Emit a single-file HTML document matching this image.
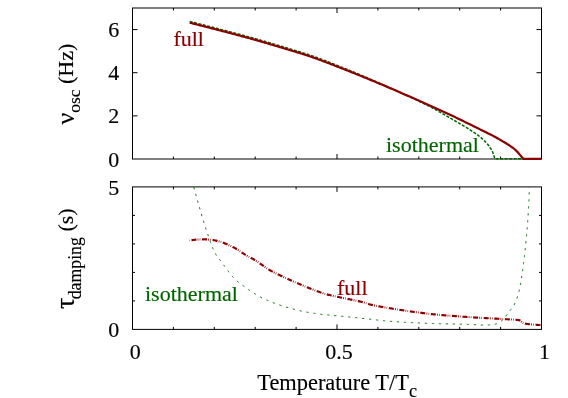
<!DOCTYPE html>
<html><head><meta charset="utf-8"><style>
html,body{margin:0;padding:0;background:#fff;}
svg{display:block;will-change:transform;}
text{font-family:"Liberation Serif",serif;font-size:22px;fill:#000;stroke:#000;stroke-width:0.15px;}
</style></head><body>
<svg width="568" height="398" viewBox="0 0 568 398">
<defs><filter id="vb" filterUnits="userSpaceOnUse" x="0" y="0" width="568" height="398" color-interpolation-filters="sRGB"><feGaussianBlur stdDeviation="0 0.5"/></filter></defs>
<rect width="568" height="398" fill="#fff"/>
<g filter="url(#vb)">
<rect width="568" height="398" fill="#fff"/>
<g fill="none" stroke="#000" stroke-width="1">
<rect x="132.5" y="8.0" width="409.0" height="151.0"/>
<rect x="132.5" y="186.9" width="409.0" height="142.49999999999997"/>
<path d="M173.40,159.0 v-2.5 M173.40,8.0 v2.5"/>
<path d="M173.40,329.4 v-2.5 M173.40,186.9 v2.5"/>
<path d="M214.30,159.0 v-2.5 M214.30,8.0 v2.5"/>
<path d="M214.30,329.4 v-2.5 M214.30,186.9 v2.5"/>
<path d="M255.20,159.0 v-2.5 M255.20,8.0 v2.5"/>
<path d="M255.20,329.4 v-2.5 M255.20,186.9 v2.5"/>
<path d="M296.10,159.0 v-2.5 M296.10,8.0 v2.5"/>
<path d="M296.10,329.4 v-2.5 M296.10,186.9 v2.5"/>
<path d="M337.00,159.0 v-5 M337.00,8.0 v5"/>
<path d="M337.00,329.4 v-5 M337.00,186.9 v5"/>
<path d="M377.90,159.0 v-2.5 M377.90,8.0 v2.5"/>
<path d="M377.90,329.4 v-2.5 M377.90,186.9 v2.5"/>
<path d="M418.80,159.0 v-2.5 M418.80,8.0 v2.5"/>
<path d="M418.80,329.4 v-2.5 M418.80,186.9 v2.5"/>
<path d="M459.70,159.0 v-2.5 M459.70,8.0 v2.5"/>
<path d="M459.70,329.4 v-2.5 M459.70,186.9 v2.5"/>
<path d="M500.60,159.0 v-2.5 M500.60,8.0 v2.5"/>
<path d="M500.60,329.4 v-2.5 M500.60,186.9 v2.5"/>
<path d="M132.5,115.86 h5 M541.5,115.86 h-5"/>
<path d="M132.5,72.71 h5 M541.5,72.71 h-5"/>
<path d="M132.5,29.57 h5 M541.5,29.57 h-5"/>
<path d="M132.5,300.90 h2.5 M541.5,300.90 h-2.5"/>
<path d="M132.5,272.40 h2.5 M541.5,272.40 h-2.5"/>
<path d="M132.5,243.90 h2.5 M541.5,243.90 h-2.5"/>
<path d="M132.5,215.40 h2.5 M541.5,215.40 h-2.5"/>
</g>
<g fill="none" stroke-linejoin="round">
<path d="M189.70,21.45 L190.81,21.73 L191.91,22.00 L193.02,22.28 L194.13,22.56 L195.23,22.84 L196.34,23.12 L197.44,23.39 L198.55,23.67 L199.65,23.95 L200.76,24.23 L201.86,24.52 L202.97,24.80 L204.08,25.08 L205.18,25.36 L206.29,25.64 L207.39,25.93 L208.49,26.21 L209.60,26.50 L210.70,26.78 L211.81,27.06 L212.91,27.35 L214.02,27.64 L215.12,27.92 L216.22,28.21 L217.33,28.49 L218.43,28.78 L219.53,29.07 L220.64,29.36 L221.74,29.64 L222.85,29.93 L223.95,30.22 L225.05,30.51 L226.15,30.80 L227.26,31.09 L228.36,31.38 L229.46,31.67 L230.57,31.96 L231.67,32.25 L232.77,32.54 L233.87,32.83 L234.98,33.13 L236.08,33.42 L237.18,33.71 L238.28,34.00 L239.39,34.29 L240.49,34.59 L241.59,34.88 L242.69,35.17 L243.79,35.47 L244.90,35.76 L246.00,36.06 L247.10,36.36 L248.20,36.66 L249.30,36.96 L250.40,37.26 L251.50,37.56 L252.60,37.87 L253.70,38.17 L254.79,38.48 L255.89,38.79 L256.99,39.10 L258.09,39.41 L259.18,39.73 L260.28,40.04 L261.37,40.36 L262.47,40.68 L263.56,41.00 L264.66,41.32 L265.75,41.64 L266.84,41.96 L267.94,42.29 L269.03,42.61 L270.12,42.94 L271.22,43.27 L272.31,43.59 L273.40,43.92 L274.49,44.25 L275.59,44.57 L276.68,44.90 L277.77,45.23 L278.86,45.56 L279.96,45.89 L281.05,46.21 L282.14,46.54 L283.24,46.86 L284.33,47.19 L285.42,47.51 L286.52,47.83 L287.61,48.16 L288.71,48.48 L289.80,48.80 L290.90,49.13 L291.99,49.45 L293.09,49.78 L294.18,50.10 L295.27,50.43 L296.36,50.76 L297.46,51.09 L298.55,51.42 L299.64,51.76 L300.73,52.09 L301.82,52.43 L302.90,52.78 L303.99,53.12 L305.07,53.47 L306.16,53.82 L307.24,54.18 L308.32,54.53 L309.40,54.90 L310.48,55.26 L311.56,55.63 L312.63,56.01 L313.71,56.39 L314.78,56.77 L315.85,57.16 L316.92,57.54 L317.99,57.94 L319.06,58.33 L320.13,58.73 L321.20,59.13 L322.27,59.53 L323.33,59.94 L324.40,60.35 L325.46,60.76 L326.53,61.17 L327.59,61.59 L328.65,62.00 L329.71,62.42 L330.78,62.84 L331.84,63.26 L332.90,63.68 L333.96,64.11 L335.02,64.53 L336.08,64.96 L337.14,65.38 L338.19,65.81 L339.25,66.23 L340.31,66.66 L341.37,67.09 L342.43,67.51 L343.48,67.94 L344.54,68.37 L345.60,68.79 L346.66,69.22 L347.71,69.65 L348.77,70.08 L349.83,70.51 L350.88,70.94 L351.94,71.37 L352.99,71.80 L354.04,72.24 L355.10,72.68 L356.15,73.11 L357.20,73.55 L358.26,73.99 L359.31,74.43 L360.36,74.87 L361.41,75.32 L362.46,75.76 L363.51,76.20 L364.56,76.65 L365.61,77.10 L366.66,77.54 L367.71,77.99 L368.76,78.44 L369.81,78.89 L370.86,79.34 L371.90,79.80 L372.95,80.25 L374.00,80.70 L375.04,81.16 L376.09,81.61 L377.13,82.07 L378.18,82.52 L379.22,82.98 L380.27,83.44 L381.31,83.90 L382.35,84.36 L383.39,84.83 L384.43,85.29 L385.47,85.76 L386.51,86.23 L387.55,86.70 L388.59,87.17 L389.63,87.64 L390.67,88.12 L391.70,88.59 L392.74,89.07 L393.78,89.55 L394.81,90.02 L395.85,90.50 L396.88,90.98 L397.92,91.46 L398.95,91.94 L399.99,92.42 L401.02,92.90 L402.06,93.37 L403.10,93.85 L404.13,94.33 L405.17,94.80 L406.21,95.28 L407.24,95.75 L408.28,96.23 L409.32,96.71 L410.35,97.19 L411.39,97.67 L412.43,98.15 L413.46,98.63 L414.50,99.11 L415.53,99.59 L416.56,100.08 L417.59,100.57 L418.62,101.06 L419.65,101.55 L420.68,102.04 L421.71,102.54 L422.73,103.04 L423.75,103.54 L424.78,104.05 L425.79,104.56 L426.81,105.07 L427.83,105.58 L428.84,106.10 L429.85,106.62 L430.86,107.15 L431.87,107.68 L432.87,108.22 L433.88,108.76 L434.88,109.31 L435.87,109.86 L436.87,110.41 L437.87,110.97 L438.86,111.53 L439.85,112.09 L440.84,112.66 L441.83,113.23 L442.82,113.80 L443.81,114.37 L444.80,114.95 L445.78,115.52 L446.77,116.10 L447.75,116.67 L448.74,117.25 L449.72,117.82 L450.71,118.40 L451.69,118.97 L452.68,119.54 L453.67,120.11 L454.66,120.68 L455.65,121.25 L456.64,121.82 L457.63,122.39 L458.63,122.96 L459.62,123.53 L460.61,124.10 L461.59,124.67 L462.58,125.25 L463.56,125.83 L464.54,126.41 L465.52,127.00 L466.50,127.60 L467.47,128.19 L468.43,128.80 L469.39,129.41 L470.35,130.03 L471.30,130.65 L472.24,131.29 L473.18,131.93 L474.12,132.57 L475.06,133.22 L476.00,133.88 L476.93,134.55 L477.86,135.23 L478.78,135.92 L479.69,136.62 L480.58,137.33 L481.45,138.06 L482.31,138.80 L483.14,139.56 L483.96,140.34 L484.76,141.14 L485.56,141.97 L486.34,142.81 L487.10,143.68 L487.84,144.56 L488.55,145.46 L489.23,146.38 L489.87,147.30 L490.49,148.25 L491.10,149.22 L491.68,150.22 L492.22,151.24 L492.70,152.27 L493.12,153.31 L493.50,154.37 L493.86,155.45 L494.18,156.55 L494.46,157.67 L494.70,158.80 L523.3,158.8" stroke="#006400" stroke-width="1.5" stroke-dasharray="3.0 1.5"/>
<path d="M189.70,22.70 L190.88,22.99 L192.06,23.29 L193.23,23.58 L194.41,23.88 L195.59,24.18 L196.76,24.47 L197.94,24.77 L199.12,25.07 L200.29,25.37 L201.47,25.67 L202.65,25.97 L203.82,26.27 L205.00,26.57 L206.18,26.87 L207.35,27.17 L208.53,27.47 L209.70,27.77 L210.88,28.07 L212.05,28.38 L213.23,28.68 L214.40,28.99 L215.58,29.29 L216.75,29.60 L217.93,29.90 L219.10,30.21 L220.28,30.51 L221.45,30.82 L222.63,31.13 L223.80,31.43 L224.98,31.74 L226.15,32.05 L227.32,32.36 L228.50,32.67 L229.67,32.97 L230.85,33.28 L232.02,33.59 L233.19,33.90 L234.37,34.21 L235.54,34.52 L236.71,34.83 L237.89,35.15 L239.06,35.46 L240.23,35.77 L241.41,36.08 L242.58,36.39 L243.75,36.71 L244.93,37.02 L246.10,37.34 L247.27,37.66 L248.44,37.97 L249.61,38.29 L250.78,38.62 L251.95,38.94 L253.12,39.26 L254.29,39.59 L255.46,39.92 L256.63,40.25 L257.79,40.58 L258.96,40.91 L260.13,41.25 L261.29,41.59 L262.46,41.92 L263.62,42.26 L264.79,42.61 L265.95,42.95 L267.12,43.29 L268.28,43.64 L269.45,43.98 L270.61,44.33 L271.77,44.68 L272.94,45.03 L274.10,45.38 L275.26,45.72 L276.42,46.07 L277.59,46.42 L278.75,46.77 L279.91,47.12 L281.07,47.47 L282.24,47.82 L283.40,48.17 L284.56,48.51 L285.73,48.86 L286.89,49.21 L288.06,49.55 L289.22,49.90 L290.38,50.25 L291.55,50.59 L292.71,50.94 L293.87,51.29 L295.04,51.64 L296.20,52.00 L297.36,52.35 L298.52,52.71 L299.68,53.07 L300.84,53.43 L302.00,53.79 L303.16,54.16 L304.31,54.53 L305.47,54.90 L306.62,55.27 L307.77,55.65 L308.92,56.04 L310.07,56.42 L311.22,56.81 L312.36,57.21 L313.51,57.61 L314.65,58.01 L315.80,58.42 L316.94,58.83 L318.08,59.24 L319.22,59.66 L320.36,60.08 L321.50,60.50 L322.63,60.92 L323.77,61.35 L324.91,61.78 L326.04,62.21 L327.18,62.64 L328.31,63.08 L329.44,63.51 L330.58,63.95 L331.71,64.39 L332.84,64.83 L333.97,65.27 L335.10,65.72 L336.24,66.16 L337.37,66.60 L338.50,67.05 L339.63,67.49 L340.76,67.94 L341.89,68.38 L343.02,68.82 L344.15,69.27 L345.28,69.71 L346.41,70.15 L347.54,70.60 L348.67,71.04 L349.79,71.49 L350.92,71.94 L352.05,72.38 L353.18,72.83 L354.31,73.28 L355.43,73.74 L356.56,74.19 L357.68,74.64 L358.81,75.10 L359.94,75.55 L361.06,76.01 L362.19,76.46 L363.31,76.92 L364.43,77.38 L365.56,77.84 L366.68,78.30 L367.80,78.76 L368.93,79.23 L370.05,79.69 L371.17,80.15 L372.29,80.62 L373.41,81.08 L374.53,81.55 L375.65,82.01 L376.78,82.48 L377.89,82.95 L379.01,83.42 L380.13,83.89 L381.25,84.36 L382.37,84.83 L383.49,85.30 L384.61,85.77 L385.73,86.25 L386.84,86.72 L387.96,87.20 L389.08,87.67 L390.19,88.15 L391.31,88.62 L392.43,89.10 L393.54,89.58 L394.66,90.06 L395.77,90.54 L396.89,91.02 L398.00,91.50 L399.11,91.98 L400.23,92.46 L401.34,92.95 L402.46,93.43 L403.57,93.92 L404.68,94.40 L405.80,94.89 L406.91,95.37 L408.02,95.86 L409.13,96.35 L410.24,96.83 L411.36,97.32 L412.47,97.81 L413.58,98.30 L414.69,98.79 L415.80,99.28 L416.91,99.77 L418.02,100.26 L419.13,100.75 L420.24,101.25 L421.35,101.74 L422.46,102.23 L423.57,102.73 L424.67,103.22 L425.78,103.71 L426.89,104.21 L428.00,104.70 L429.11,105.20 L430.22,105.70 L431.32,106.19 L432.43,106.69 L433.54,107.19 L434.64,107.69 L435.75,108.19 L436.86,108.69 L437.96,109.19 L439.07,109.69 L440.17,110.20 L441.27,110.70 L442.38,111.21 L443.48,111.72 L444.58,112.22 L445.69,112.73 L446.79,113.24 L447.89,113.76 L448.99,114.27 L450.09,114.78 L451.19,115.30 L452.28,115.82 L453.38,116.34 L454.48,116.86 L455.57,117.38 L456.67,117.91 L457.76,118.43 L458.85,118.96 L459.94,119.49 L461.04,120.02 L462.13,120.55 L463.22,121.08 L464.31,121.62 L465.40,122.15 L466.49,122.68 L467.58,123.21 L468.67,123.75 L469.76,124.28 L470.85,124.82 L471.94,125.35 L473.03,125.89 L474.12,126.43 L475.21,126.97 L476.29,127.51 L477.38,128.05 L478.47,128.59 L479.55,129.13 L480.64,129.67 L481.73,130.21 L482.82,130.74 L483.91,131.28 L485.00,131.82 L486.09,132.35 L487.18,132.89 L488.27,133.43 L489.35,133.97 L490.44,134.52 L491.52,135.07 L492.60,135.62 L493.67,136.18 L494.74,136.75 L495.81,137.33 L496.87,137.92 L497.93,138.51 L498.98,139.12 L500.03,139.73 L501.08,140.34 L502.13,140.96 L503.17,141.58 L504.22,142.20 L505.26,142.81 L506.31,143.44 L507.35,144.07 L508.38,144.71 L509.39,145.38 L510.39,146.06 L511.37,146.77 L512.35,147.49 L513.32,148.24 L514.27,149.00 L515.19,149.79 L516.09,150.60 L516.95,151.44 L517.78,152.32 L518.58,153.24 L519.38,154.16 L520.16,155.09 L520.96,156.01 L521.74,156.94 L522.53,157.87 L523.30,158.80 L541.5,158.8" stroke="#8b0000" stroke-width="2.2"/>
<path d="M193.80,187.00 L194.07,188.00 L194.34,189.01 L194.60,190.01 L194.88,191.01 L195.15,192.02 L195.42,193.02 L195.69,194.02 L195.97,195.02 L196.24,196.02 L196.52,197.02 L196.80,198.02 L197.08,199.03 L197.36,200.03 L197.64,201.02 L197.92,202.02 L198.21,203.02 L198.49,204.02 L198.78,205.02 L199.06,206.02 L199.35,207.02 L199.64,208.02 L199.92,209.01 L200.21,210.01 L200.49,211.01 L200.78,212.01 L201.06,213.01 L201.35,214.01 L201.64,215.01 L201.93,216.01 L202.22,217.01 L202.52,218.01 L202.81,219.00 L203.11,220.00 L203.41,220.99 L203.71,221.99 L204.02,222.98 L204.33,223.97 L204.64,224.96 L204.95,225.95 L205.27,226.93 L205.60,227.92 L205.93,228.90 L206.26,229.88 L206.59,230.86 L206.93,231.85 L207.26,232.84 L207.60,233.83 L207.93,234.82 L208.27,235.81 L208.60,236.81 L208.94,237.81 L209.29,238.80 L209.63,239.80 L209.98,240.79 L210.34,241.78 L210.70,242.77 L211.07,243.75 L211.44,244.73 L211.82,245.70 L212.21,246.67 L212.61,247.63 L213.01,248.59 L213.43,249.53 L213.86,250.47 L214.30,251.40 L214.75,252.32 L215.21,253.23 L215.69,254.13 L216.18,255.01 L216.70,255.88 L217.28,256.73 L217.92,257.55 L218.59,258.36 L219.26,259.17 L219.91,259.98 L220.54,260.81 L221.16,261.64 L221.78,262.48 L222.40,263.31 L223.02,264.15 L223.63,264.99 L224.25,265.82 L224.86,266.66 L225.48,267.49 L226.10,268.33 L226.73,269.16 L227.36,269.98 L227.99,270.81 L228.63,271.63 L229.27,272.44 L229.91,273.26 L230.55,274.08 L231.20,274.89 L231.86,275.70 L232.53,276.50 L233.22,277.27 L233.92,278.03 L234.65,278.76 L235.39,279.48 L236.16,280.19 L236.94,280.88 L237.73,281.56 L238.52,282.23 L239.33,282.88 L240.15,283.52 L240.98,284.13 L241.83,284.74 L242.68,285.33 L243.53,285.93 L244.38,286.53 L245.23,287.14 L246.06,287.75 L246.90,288.38 L247.73,289.00 L248.57,289.61 L249.41,290.22 L250.26,290.81 L251.13,291.38 L251.99,291.95 L252.87,292.51 L253.74,293.08 L254.63,293.63 L255.51,294.18 L256.40,294.72 L257.30,295.26 L258.20,295.78 L259.10,296.30 L260.01,296.80 L260.92,297.29 L261.84,297.77 L262.76,298.23 L263.69,298.68 L264.63,299.12 L265.57,299.56 L266.52,299.98 L267.47,300.40 L268.43,300.81 L269.39,301.21 L270.35,301.61 L271.32,302.00 L272.29,302.38 L273.26,302.75 L274.23,303.12 L275.21,303.48 L276.18,303.83 L277.16,304.18 L278.14,304.52 L279.12,304.85 L280.11,305.18 L281.09,305.51 L282.08,305.82 L283.08,306.14 L284.07,306.44 L285.06,306.75 L286.06,307.04 L287.06,307.33 L288.06,307.62 L289.06,307.90 L290.05,308.18 L291.06,308.46 L292.06,308.73 L293.06,309.01 L294.06,309.28 L295.07,309.54 L296.08,309.80 L297.09,310.06 L298.10,310.31 L299.11,310.55 L300.12,310.78 L301.13,311.01 L302.15,311.23 L303.16,311.43 L304.18,311.63 L305.20,311.83 L306.22,312.01 L307.24,312.20 L308.26,312.38 L309.28,312.56 L310.31,312.73 L311.34,312.90 L312.36,313.06 L313.39,313.22 L314.42,313.38 L315.45,313.53 L316.48,313.68 L317.51,313.82 L318.54,313.95 L319.57,314.08 L320.60,314.21 L321.63,314.33 L322.66,314.45 L323.69,314.57 L324.72,314.68 L325.75,314.78 L326.78,314.89 L327.82,314.99 L328.85,315.09 L329.89,315.18 L330.92,315.28 L331.96,315.37 L332.99,315.46 L334.03,315.55 L335.06,315.64 L336.10,315.73 L337.13,315.82 L338.17,315.91 L339.20,316.00 L340.24,316.10 L341.27,316.19 L342.31,316.28 L343.34,316.38 L344.37,316.48 L345.41,316.58 L346.44,316.68 L347.48,316.79 L348.51,316.89 L349.54,317.00 L350.57,317.11 L351.61,317.21 L352.64,317.32 L353.67,317.43 L354.71,317.54 L355.74,317.64 L356.77,317.75 L357.81,317.86 L358.84,317.97 L359.87,318.08 L360.90,318.19 L361.94,318.29 L362.97,318.40 L364.00,318.51 L365.04,318.63 L366.07,318.74 L367.10,318.86 L368.13,318.97 L369.17,319.09 L370.20,319.21 L371.23,319.33 L372.26,319.45 L373.29,319.57 L374.33,319.69 L375.36,319.81 L376.39,319.93 L377.42,320.05 L378.46,320.16 L379.49,320.28 L380.52,320.39 L381.55,320.50 L382.59,320.61 L383.62,320.72 L384.65,320.82 L385.69,320.92 L386.72,321.02 L387.75,321.11 L388.79,321.20 L389.82,321.29 L390.86,321.37 L391.89,321.44 L392.93,321.52 L393.96,321.59 L395.00,321.65 L396.03,321.72 L397.07,321.79 L398.10,321.85 L399.14,321.92 L400.18,321.98 L401.21,322.05 L402.25,322.11 L403.29,322.17 L404.32,322.23 L405.36,322.29 L406.40,322.35 L407.43,322.40 L408.47,322.46 L409.51,322.51 L410.55,322.57 L411.58,322.62 L412.62,322.67 L413.66,322.72 L414.70,322.77 L415.73,322.82 L416.77,322.87 L417.81,322.92 L418.85,322.97 L419.89,323.01 L420.92,323.06 L421.96,323.10 L423.00,323.15 L424.04,323.19 L425.08,323.23 L426.12,323.27 L427.15,323.31 L428.19,323.35 L429.23,323.39 L430.27,323.43 L431.31,323.46 L432.34,323.50 L433.38,323.53 L434.42,323.57 L435.46,323.60 L436.50,323.63 L437.53,323.67 L438.57,323.69 L439.61,323.72 L440.65,323.75 L441.69,323.78 L442.72,323.80 L443.76,323.83 L444.80,323.85 L445.84,323.88 L446.88,323.90 L447.92,323.92 L448.95,323.94 L449.99,323.96 L451.03,323.99 L452.07,324.01 L453.11,324.03 L454.15,324.05 L455.18,324.07 L456.22,324.09 L457.26,324.12 L458.30,324.14 L459.34,324.16 L460.38,324.18 L461.41,324.21 L462.45,324.23 L463.49,324.26 L464.53,324.29 L465.57,324.31 L466.61,324.34 L467.64,324.37 L468.68,324.41 L469.72,324.44 L470.76,324.48 L471.80,324.53 L472.84,324.58 L473.87,324.64 L474.91,324.69 L475.95,324.75 L476.99,324.80 L478.03,324.85 L479.07,324.91 L480.10,324.95 L481.14,325.00 L482.18,325.03 L483.22,325.06 L484.25,325.08 L485.29,325.10 L486.32,325.10 L487.37,325.08 L488.42,325.03 L489.47,324.95 L490.52,324.85 L491.57,324.74 L492.60,324.60 L493.62,324.45 L494.62,324.28 L495.59,324.09 L496.57,323.79 L497.54,323.39 L498.50,322.90 L499.43,322.35 L500.33,321.76 L501.18,321.15 L501.98,320.54 L502.72,319.90 L503.44,319.19 L504.12,318.43 L504.78,317.62 L505.42,316.78 L506.04,315.92 L506.66,315.05 L507.27,314.17 L507.89,313.30 L508.51,312.46 L509.14,311.63 L509.79,310.81 L510.45,309.99 L511.11,309.17 L511.76,308.34 L512.39,307.50 L512.99,306.65 L513.55,305.79 L514.07,304.91 L514.54,304.02 L514.98,303.10 L515.41,302.17 L515.82,301.22 L516.22,300.25 L516.60,299.28 L516.97,298.29 L517.32,297.30 L517.65,296.30 L517.97,295.30 L518.26,294.29 L518.54,293.29 L518.80,292.29 L519.05,291.29 L519.28,290.29 L519.50,289.28 L519.72,288.27 L519.92,287.25 L520.12,286.24 L520.31,285.21 L520.50,284.19 L520.68,283.17 L520.85,282.14 L521.02,281.11 L521.18,280.08 L521.34,279.05 L521.50,278.02 L521.65,276.98 L521.81,275.95 L521.96,274.92 L522.11,273.89 L522.26,272.87 L522.41,271.84 L522.56,270.81 L522.71,269.78 L522.85,268.75 L522.99,267.73 L523.13,266.70 L523.26,265.67 L523.40,264.64 L523.53,263.61 L523.66,262.57 L523.79,261.54 L523.91,260.51 L524.03,259.48 L524.15,258.45 L524.27,257.42 L524.39,256.38 L524.51,255.35 L524.62,254.32 L524.73,253.29 L524.84,252.26 L524.96,251.22 L525.07,250.19 L525.18,249.16 L525.29,248.13 L525.40,247.09 L525.51,246.06 L525.62,245.03 L525.73,243.99 L525.84,242.96 L525.94,241.93 L526.05,240.89 L526.15,239.86 L526.25,238.82 L526.35,237.79 L526.45,236.76 L526.55,235.72 L526.65,234.69 L526.74,233.65 L526.84,232.62 L526.93,231.58 L527.02,230.55 L527.11,229.51 L527.19,228.48 L527.28,227.44 L527.36,226.41 L527.44,225.37 L527.52,224.34 L527.59,223.30 L527.66,222.27 L527.73,221.23 L527.80,220.20 L527.87,219.16 L527.93,218.12 L527.99,217.09 L528.06,216.05 L528.12,215.02 L528.18,213.98 L528.24,212.94 L528.31,211.91 L528.36,210.87 L528.42,209.83 L528.48,208.80 L528.54,207.76 L528.59,206.72 L528.65,205.69 L528.70,204.65 L528.75,203.61 L528.81,202.57 L528.86,201.54 L528.90,200.50 L528.95,199.46 L529.00,198.42 L529.04,197.38 L529.08,196.35 L529.13,195.31 L529.17,194.27 L529.20,193.23 L529.24,192.19 L529.28,191.16 L529.31,190.12 L529.34,189.08 L529.37,188.04 L529.40,187.00" stroke="#006400" stroke-width="0.9" stroke-dasharray="2.3 4.7"/>
<path d="M189.50,240.60 L190.41,240.44 L191.32,240.28 L192.24,240.14 L193.15,240.00 L194.07,239.88 L194.98,239.77 L195.90,239.68 L196.82,239.61 L197.74,239.56 L198.66,239.50 L199.58,239.45 L200.50,239.41 L201.43,239.37 L202.35,239.33 L203.28,239.31 L204.20,239.30 L205.12,239.31 L206.04,239.34 L206.96,239.39 L207.89,239.47 L208.81,239.56 L209.73,239.66 L210.64,239.76 L211.56,239.86 L212.47,239.99 L213.39,240.13 L214.30,240.29 L215.21,240.46 L216.12,240.65 L217.02,240.84 L217.91,241.05 L218.80,241.28 L219.69,241.53 L220.57,241.80 L221.45,242.09 L222.33,242.40 L223.20,242.71 L224.06,243.04 L224.93,243.38 L225.78,243.71 L226.64,244.06 L227.48,244.41 L228.33,244.78 L229.17,245.17 L230.01,245.56 L230.84,245.96 L231.67,246.38 L232.50,246.80 L233.32,247.23 L234.13,247.66 L234.94,248.10 L235.74,248.55 L236.54,249.01 L237.32,249.50 L238.10,249.99 L238.87,250.50 L239.64,251.01 L240.41,251.53 L241.17,252.05 L241.94,252.57 L242.71,253.08 L243.48,253.59 L244.26,254.08 L245.05,254.57 L245.84,255.04 L246.64,255.50 L247.44,255.95 L248.25,256.40 L249.06,256.84 L249.88,257.28 L250.69,257.72 L251.50,258.17 L252.31,258.61 L253.12,259.06 L253.92,259.52 L254.71,259.98 L255.50,260.46 L256.28,260.95 L257.05,261.45 L257.82,261.97 L258.58,262.49 L259.34,263.02 L260.10,263.56 L260.85,264.10 L261.60,264.64 L262.35,265.18 L263.10,265.72 L263.86,266.26 L264.61,266.80 L265.37,267.33 L266.13,267.85 L266.90,268.36 L267.67,268.86 L268.45,269.35 L269.23,269.83 L270.03,270.29 L270.83,270.74 L271.63,271.18 L272.44,271.61 L273.26,272.04 L274.08,272.46 L274.91,272.87 L275.73,273.28 L276.57,273.69 L277.40,274.09 L278.24,274.49 L279.07,274.89 L279.91,275.28 L280.75,275.67 L281.59,276.06 L282.42,276.46 L283.26,276.85 L284.10,277.24 L284.93,277.63 L285.77,278.02 L286.61,278.41 L287.45,278.79 L288.29,279.17 L289.13,279.55 L289.97,279.93 L290.81,280.31 L291.66,280.68 L292.50,281.06 L293.35,281.43 L294.19,281.80 L295.04,282.17 L295.89,282.53 L296.73,282.90 L297.58,283.26 L298.43,283.63 L299.28,283.99 L300.13,284.35 L300.98,284.71 L301.83,285.07 L302.68,285.42 L303.53,285.78 L304.39,286.13 L305.24,286.49 L306.09,286.84 L306.95,287.18 L307.80,287.53 L308.66,287.88 L309.52,288.22 L310.38,288.56 L311.23,288.90 L312.09,289.24 L312.95,289.57 L313.81,289.91 L314.67,290.24 L315.54,290.58 L316.40,290.91 L317.26,291.23 L318.13,291.55 L319.00,291.86 L319.87,292.16 L320.75,292.45 L321.62,292.74 L322.50,293.02 L323.38,293.31 L324.26,293.58 L325.15,293.85 L326.03,294.11 L326.92,294.37 L327.81,294.61 L328.70,294.85 L329.59,295.08 L330.49,295.30 L331.38,295.51 L332.28,295.72 L333.18,295.92 L334.08,296.12 L334.99,296.31 L335.89,296.50 L336.79,296.69 L337.70,296.88 L338.60,297.06 L339.51,297.25 L340.42,297.43 L341.32,297.61 L342.23,297.80 L343.13,297.98 L344.04,298.17 L344.94,298.36 L345.84,298.55 L346.75,298.74 L347.65,298.93 L348.56,299.12 L349.46,299.30 L350.37,299.48 L351.27,299.66 L352.18,299.85 L353.09,300.03 L353.99,300.21 L354.90,300.40 L355.80,300.59 L356.70,300.78 L357.61,300.97 L358.51,301.17 L359.41,301.37 L360.30,301.58 L361.20,301.80 L362.09,302.02 L362.98,302.26 L363.87,302.52 L364.75,302.79 L365.63,303.08 L366.51,303.36 L367.39,303.65 L368.27,303.93 L369.16,304.20 L370.04,304.45 L370.93,304.69 L371.83,304.90 L372.72,305.10 L373.62,305.30 L374.52,305.50 L375.43,305.68 L376.33,305.87 L377.23,306.05 L378.14,306.22 L379.05,306.39 L379.96,306.56 L380.87,306.72 L381.78,306.89 L382.69,307.04 L383.60,307.20 L384.51,307.36 L385.42,307.51 L386.33,307.66 L387.25,307.81 L388.16,307.96 L389.07,308.11 L389.98,308.26 L390.90,308.40 L391.81,308.55 L392.72,308.70 L393.63,308.85 L394.54,309.00 L395.45,309.15 L396.36,309.29 L397.27,309.44 L398.19,309.58 L399.10,309.72 L400.01,309.87 L400.92,310.01 L401.84,310.15 L402.75,310.28 L403.66,310.42 L404.57,310.56 L405.49,310.69 L406.40,310.82 L407.32,310.96 L408.23,311.09 L409.14,311.22 L410.06,311.35 L410.97,311.47 L411.89,311.60 L412.80,311.72 L413.72,311.85 L414.63,311.97 L415.54,312.09 L416.46,312.22 L417.37,312.34 L418.29,312.46 L419.20,312.58 L420.12,312.70 L421.04,312.82 L421.95,312.94 L422.87,313.06 L423.78,313.18 L424.70,313.30 L425.62,313.41 L426.53,313.52 L427.45,313.63 L428.37,313.74 L429.28,313.85 L430.20,313.95 L431.12,314.06 L432.03,314.16 L432.95,314.25 L433.87,314.35 L434.79,314.44 L435.71,314.53 L436.62,314.62 L437.54,314.70 L438.46,314.78 L439.38,314.86 L440.30,314.94 L441.22,315.02 L442.14,315.09 L443.06,315.16 L443.98,315.24 L444.90,315.31 L445.82,315.38 L446.74,315.45 L447.66,315.52 L448.59,315.58 L449.51,315.65 L450.43,315.72 L451.35,315.79 L452.27,315.86 L453.19,315.93 L454.11,315.99 L455.03,316.06 L455.95,316.13 L456.87,316.21 L457.79,316.28 L458.71,316.35 L459.63,316.42 L460.55,316.50 L461.47,316.57 L462.39,316.65 L463.31,316.72 L464.23,316.79 L465.15,316.86 L466.07,316.93 L466.99,317.00 L467.92,317.06 L468.84,317.12 L469.76,317.18 L470.68,317.24 L471.60,317.30 L472.52,317.36 L473.44,317.42 L474.36,317.47 L475.28,317.53 L476.21,317.58 L477.13,317.64 L478.05,317.69 L478.97,317.74 L479.89,317.79 L480.81,317.85 L481.74,317.90 L482.66,317.95 L483.58,318.00 L484.50,318.05 L485.42,318.10 L486.34,318.15 L487.27,318.20 L488.19,318.25 L489.11,318.30 L490.03,318.35 L490.95,318.39 L491.88,318.44 L492.80,318.49 L493.72,318.54 L494.64,318.59 L495.56,318.64 L496.48,318.69 L497.41,318.74 L498.33,318.80 L499.25,318.85 L500.17,318.90 L501.09,318.95 L502.01,319.01 L502.94,319.06 L503.86,319.11 L504.78,319.15 L505.70,319.20 L506.63,319.24 L507.55,319.29 L508.47,319.33 L509.40,319.38 L510.32,319.42 L511.24,319.48 L512.16,319.53 L513.09,319.59 L514.01,319.65 L514.92,319.72 L515.84,319.79 L516.76,319.88 L517.69,319.97 L518.63,320.09 L519.51,320.27 L520.27,320.68 L520.97,321.34 L521.70,321.95 L522.44,322.53 L523.21,323.02 L524.06,323.34 L524.95,323.59 L525.87,323.78 L526.77,323.92 L527.69,324.04 L528.61,324.15 L529.53,324.24 L530.45,324.33 L531.37,324.41 L532.29,324.49 L533.21,324.56 L534.13,324.64 L535.05,324.71 L535.97,324.78 L536.89,324.85 L537.81,324.91 L538.73,324.96 L539.65,325.01 L540.58,325.06 L541.50,325.10" stroke="#8b0000" stroke-width="2.15" stroke-dasharray="5.0 1.2 0.8 1.3 0.6 1.7" stroke-dashoffset="8.6"/>
</g>
<text transform="translate(119.3,166.5) scale(1,1.0)" text-anchor="end">0</text>
<text transform="translate(119.3,123.4) scale(1,1.0)" text-anchor="end">2</text>
<text transform="translate(119.3,80.2) scale(1,1.0)" text-anchor="end">4</text>
<text transform="translate(119.3,37.1) scale(1,1.0)" text-anchor="end">6</text>
<text transform="translate(119.3,337.0) scale(1,1.0)" text-anchor="end">0</text>
<text transform="translate(119.3,194.5) scale(1,1.0)" text-anchor="end">5</text>
<text transform="translate(135.2,359.4) scale(1,1.0)" text-anchor="middle">0</text>
<text transform="translate(339,359.4) scale(1,1.0)" text-anchor="middle">0.5</text>
<text transform="translate(544.5,359.4) scale(1,1.0)" text-anchor="middle">1</text>
<text transform="translate(257.3,390.0) scale(1,1.0)" style="font-size:22.4px">Temperature T/T<tspan dy="6.8" font-size="18.2px">c</tspan></text>
<text transform="translate(173.4,45.8) scale(1,1.0)" style="fill:#8b0000;stroke:#8b0000">full</text>
<text transform="translate(386,151.9) scale(1,1.0)" style="fill:#006400;stroke:#006400">isothermal</text>
<text transform="translate(145,301.2) scale(1,1.0)" style="fill:#006400;stroke:#006400">isothermal</text>
<text transform="translate(337,295.3) scale(1,1.0)" style="fill:#8b0000;stroke:#8b0000">full</text>
<text transform="translate(73.9,124.6) rotate(-90) scale(1,1.0)"><tspan font-size="26px">ν</tspan><tspan dy="6.5" font-size="17.5px">osc</tspan><tspan dy="-7.4"> (Hz)</tspan></text>
<text transform="translate(74.4,309) rotate(-90) scale(1,1.0)"><tspan font-size="28px">τ</tspan><tspan dy="6.5" dx="-1.6" font-size="17.8px">damping</tspan><tspan dy="-7.6"> (s)</tspan></text>
</g>
</svg>
</body></html>
